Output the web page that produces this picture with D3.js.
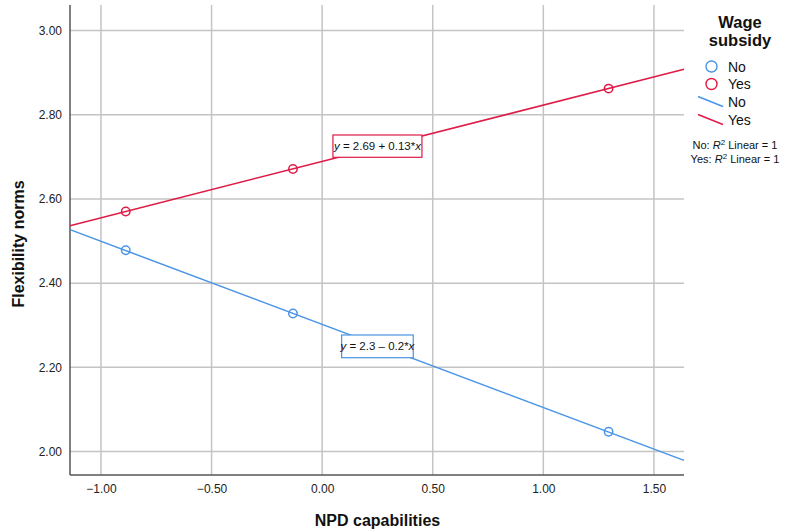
<!DOCTYPE html>
<html>
<head>
<meta charset="utf-8">
<script src="https://cdn.jsdelivr.net/npm/d3@7"></script>
<style>
  html, body { margin: 0; padding: 0; background: #fff; }
  svg { display: block; font-family: "Liberation Sans", Arial, sans-serif; }
</style>
</head>
<body>
<svg id="chart" width="792" height="532"></svg>
<script>
// ---- data ----
const groups = ["No", "Yes"];
const npdValues = [-0.888, -0.132, 1.295];
const flexNo = [2.478, 2.328, 2.047];
const flexYes = [2.570, 2.671, 2.862];
const fitIntercepts = [2.302, 2.689];
const fitSlopes = [-0.1974, 0.1338];
const equationLabels = ["y = 2.3 \u2013 0.2*x", "y = 2.69 + 0.13*x"];
const xTicks = [-1.0, -0.5, 0.0, 0.5, 1.0, 1.5];
const yTicks = [2.0, 2.2, 2.4, 2.6, 2.8, 3.0];
const r2Labels = ["No: ", "Yes: "];

const colors = { No: "#4a94e6", Yes: "#de1b46" };

(function () {
const svg = d3.select("#chart");
const pLeft = 70, pRight = 684, pTop = 5, pBottom = 475;

const x = d3.scaleLinear().domain([-1.140, 1.636]).range([pLeft, pRight]);
const y = d3.scaleLinear().domain([1.9443, 3.0606]).range([pBottom, pTop]);

// grid
const grid = svg.append("g");
grid.selectAll("line.v").data(xTicks).join("line")
  .attr("x1", d => x(d)).attr("x2", d => x(d))
  .attr("y1", pTop).attr("y2", pBottom)
  .attr("stroke", "#c4c4c4").attr("stroke-width", 1.5);
grid.selectAll("line.h").data(yTicks).join("line")
  .attr("x1", pLeft).attr("x2", pRight)
  .attr("y1", d => y(d)).attr("y2", d => y(d))
  .attr("stroke", "#c4c4c4").attr("stroke-width", 1.5);

// axes
const xAxis = svg.append("g").attr("transform", `translate(0,${pBottom})`)
  .call(d3.axisBottom(x).tickValues(xTicks).tickSize(0).tickPadding(9)
    .tickFormat(d => d3.format(".2f")(d).replace("-", "\u2212")));
xAxis.select(".domain").attr("stroke", "#555").attr("stroke-width", 1.5)
  .attr("d", `M${pLeft},0H${pRight}`);
xAxis.selectAll("text").attr("font-size", 12).attr("fill", "#222")
  .attr("font-family", "Liberation Sans, Arial, sans-serif");

const yAxis = svg.append("g").attr("transform", `translate(${pLeft},0)`)
  .call(d3.axisLeft(y).tickValues(yTicks).tickSize(0).tickPadding(8)
    .tickFormat(d3.format(".2f")));
yAxis.select(".domain").attr("stroke", "#555").attr("stroke-width", 1.5)
  .attr("d", `M0,${pTop}V${pBottom}`);
yAxis.selectAll("text").attr("font-size", 12).attr("fill", "#222")
  .attr("font-family", "Liberation Sans, Arial, sans-serif");

// axis titles
svg.append("text").attr("x", (pLeft + pRight) / 2 + 0.5).attr("y", 526)
  .attr("text-anchor", "middle").attr("font-size", 16).attr("font-weight", "bold")
  .attr("fill", "#111").text("NPD capabilities");
svg.append("text")
  .attr("transform", `translate(24,244) rotate(-90)`)
  .attr("text-anchor", "middle").attr("font-size", 16).attr("font-weight", "bold")
  .attr("fill", "#111").text("Flexibility norms");

// fit lines
const domainX = x.domain();
const plot = svg.append("g");
groups.forEach((g, i) => {
  const pts = domainX.map(v => [v, fitIntercepts[i] + fitSlopes[i] * v]);
  plot.append("line")
    .attr("x1", x(pts[0][0])).attr("y1", y(pts[0][1]))
    .attr("x2", x(pts[1][0])).attr("y2", y(pts[1][1]))
    .attr("stroke", colors[g]).attr("stroke-width", 1.5);
});

// points
const series = [flexNo, flexYes];
groups.forEach((g, i) => {
  plot.selectAll(null).data(npdValues.map((v, j) => [v, series[i][j]])).join("circle")
    .attr("cx", d => x(d[0])).attr("cy", d => y(d[1])).attr("r", 4.2)
    .attr("fill", "none").attr("stroke", colors[g]).attr("stroke-width", 1.5);
});

// equation labels
const eqBoxes = [
  { cx: x(0.25), cy: (335 + 357.7) / 2, w: 71.6, h: 22.7 },
  { cx: x(0.25), cy: (135 + 157.3) / 2, w: 89, h: 22.3 }
];
groups.forEach((g, i) => {
  const b = eqBoxes[i];
  plot.append("rect").attr("x", b.cx - b.w / 2).attr("y", b.cy - b.h / 2)
    .attr("width", b.w).attr("height", b.h)
    .attr("fill", "#fff").attr("stroke", colors[g]).attr("stroke-width", 1.2);
  const parts = equationLabels[i].split(/(x|y)/).filter(s => s.length);
  const t = plot.append("text").attr("x", b.cx).attr("y", b.cy + 4)
    .attr("text-anchor", "middle").attr("font-size", 11.5).attr("fill", "#111");
  parts.forEach(p => {
    t.append("tspan").attr("font-style", (p === "x" || p === "y") ? "italic" : "normal").text(p);
  });
});

// legend
const lg = svg.append("g");
lg.append("text").attr("x", 740).attr("y", 28).attr("text-anchor", "middle")
  .attr("font-size", 16.5).attr("font-weight", "bold").attr("fill", "#111").text("Wage");
lg.append("text").attr("x", 740).attr("y", 46).attr("text-anchor", "middle")
  .attr("font-size", 16.5).attr("font-weight", "bold").attr("fill", "#111").text("subsidy");

const circY = [66.5, 84];
groups.forEach((g, i) => {
  lg.append("circle").attr("cx", 711.5).attr("cy", circY[i]).attr("r", 5.5)
    .attr("fill", "none").attr("stroke", colors[g]).attr("stroke-width", 1.4);
  lg.append("text").attr("x", 728).attr("y", circY[i] + 5).attr("font-size", 14)
    .attr("fill", "#111").text(g);
});
const lineY = [96.5, 114.5];
groups.forEach((g, i) => {
  lg.append("line").attr("x1", 698).attr("y1", lineY[i]).attr("x2", 723).attr("y2", lineY[i] + 10)
    .attr("stroke", colors[g]).attr("stroke-width", 1.5);
  lg.append("text").attr("x", 728).attr("y", lineY[i] + 10).attr("font-size", 14)
    .attr("fill", "#111").text(g);
});
const r2Y = [149, 163];
groups.forEach((g, i) => {
  const t = lg.append("text").attr("x", 735).attr("y", r2Y[i]).attr("text-anchor", "middle")
    .attr("font-size", 11).attr("fill", "#111");
  t.append("tspan").text(r2Labels[i]);
  t.append("tspan").attr("font-style", "italic").text("R");
  t.append("tspan").attr("font-size", 8).attr("dy", -4).text("2");
  t.append("tspan").attr("dy", 4).text(" Linear = 1");
});
})();
</script>
</body>
</html>
